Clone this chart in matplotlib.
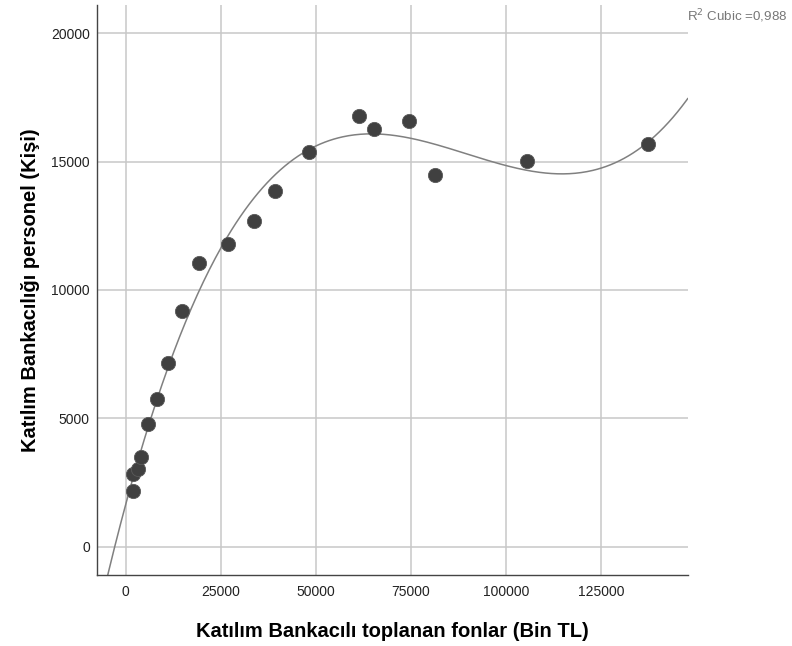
import numpy as np
import matplotlib.pyplot as plt

# Katılım bankacılığı: toplanan fonlar (Bin TL) ve personel sayısı (Kişi)
fonlar = [1841, 1841, 3156, 4103, 5944, 8311, 11125, 14885, 19199, 26825,
          33821, 39344, 48127, 61435, 65380, 74427, 81424, 105460, 137282]
personel = [2182, 2832, 3039, 3506, 4780, 5742, 7156, 9182, 11040, 11804,
            12700, 13857, 15376, 16778, 16260, 16572, 14468, 15037, 15676]

x_ticks = [0, 25000, 50000, 75000, 100000, 125000]
y_ticks = [0, 5000, 10000, 15000, 20000]

plt.rcParams['font.family'] = ['Liberation Sans', 'DejaVu Sans']

fig = plt.figure(figsize=(7.92, 6.46), dpi=100)
ax = fig.add_axes([0.1221, 0.1099, 0.7462, 0.8824])

# kübik eğri
coef = np.polyfit(fonlar, personel, 3)
xs = np.linspace(-7600, 147800, 400)
ax.plot(xs, np.polyval(coef, xs), color='#808080', lw=1.1, zorder=2)

ax.scatter(fonlar, personel, s=105, color='#404040', edgecolors='#5a5a5a',
           linewidths=0.6, zorder=3)

ax.set_xlim(-7627, 147800)
ax.set_ylim(-1102, 21100)
ax.set_xticks(x_ticks)
ax.set_yticks(y_ticks)
ax.grid(True, color='#c8c8c8', lw=1.1)
ax.set_axisbelow(True)
ax.tick_params(length=0, labelsize=10, colors='#222222')
ax.tick_params(axis='x', pad=7)
ax.tick_params(axis='y', pad=5)

for s in ['top', 'right']:
    ax.spines[s].set_visible(False)
for s in ['left', 'bottom']:
    ax.spines[s].set_color('#444444')
    ax.spines[s].set_linewidth(1.0)

ax.set_xlabel('Katılım Bankacılı toplanan fonlar (Bin TL)', fontsize=14.5,
              fontweight='bold', labelpad=17)
ax.set_ylabel('Katılım Bankacılığı personel (Kişi)', fontsize=14.5,
              fontweight='bold', labelpad=8)

fig.text(0.867, 0.975, 'R$^2$ Cubic =0,988', fontsize=9.6, color='#777777',
         ha='left', va='center')

fig.savefig('out.png', dpi=100)
